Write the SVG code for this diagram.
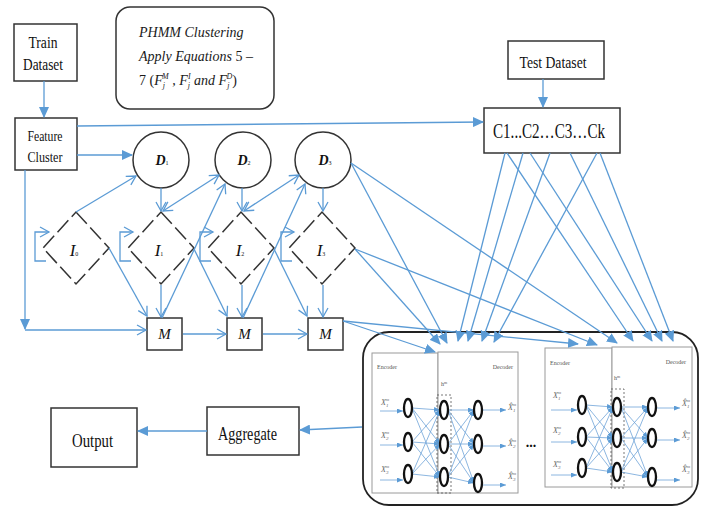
<svg xmlns="http://www.w3.org/2000/svg" width="704" height="508" viewBox="0 0 704 508">
<style>
.box{fill:#fff;stroke:#333;stroke-width:1.5}
.lbl{font-family:"Liberation Serif",serif;fill:#111}
.it{font-family:"Liberation Serif",serif;font-style:italic;fill:#1a1a1a}
.c{fill:none;stroke:#5B9BD5;stroke-width:1.3}
.nn{fill:none;stroke:#6FA3D8;stroke-width:0.8}
.neu{fill:#fff;stroke:#111;stroke-width:2.3}
.pan{fill:#fff;stroke:#9a9a9a;stroke-width:1}
.tiny{font-family:"Liberation Serif",serif;font-size:6px;fill:#555}
.xl{font-family:"Liberation Serif",serif;font-style:italic;font-size:8px;fill:#666}
.dia{fill:#fff;stroke:#333;stroke-width:1.5;stroke-dasharray:16 5}
</style>
<defs>
<marker id="tri" markerWidth="11" markerHeight="10" refX="10" refY="5" orient="auto" markerUnits="userSpaceOnUse"><path d="M0,0 L11,5 L0,10 z" fill="#5B9BD5"/></marker>
<marker id="vee" markerWidth="12" markerHeight="12" refX="10" refY="6" orient="auto-start-reverse" markerUnits="userSpaceOnUse"><path d="M1,1 L10,6 L1,11" fill="none" stroke="#5B9BD5" stroke-width="1.3"/></marker>
<marker id="sm" markerWidth="6" markerHeight="5" refX="6" refY="2.5" orient="auto" markerUnits="userSpaceOnUse"><path d="M0,0 L6,2.5 L0,5 z" fill="#5B9BD5"/></marker>
</defs>
<rect width="704" height="508" fill="#fff"/>

<g id="train-dataset">
<rect class="box" x="14" y="24" width="63" height="57"/>
<text class="lbl" font-size="17" text-anchor="middle" x="43" y="48" textLength="29" lengthAdjust="spacingAndGlyphs">Train</text>
<text class="lbl" font-size="17" text-anchor="middle" x="43" y="70" textLength="40" lengthAdjust="spacingAndGlyphs">Dataset</text>
</g>
<g id="feature-cluster">
<rect class="box" x="15" y="118" width="62" height="52"/>
<text class="lbl" font-size="14" text-anchor="middle" x="45" y="141" textLength="35" lengthAdjust="spacingAndGlyphs">Feature</text>
<text class="lbl" font-size="14" text-anchor="middle" x="45" y="162" textLength="35" lengthAdjust="spacingAndGlyphs">Cluster</text>
</g>
<g id="phmm-note">
<rect x="116" y="7" width="158" height="102" rx="14" fill="#fff" stroke="#333" stroke-width="1.5"/>
<text class="it" font-size="14" x="139" y="37">PHMM Clustering</text>
<text class="it" font-size="14" x="139" y="61">Apply Equations <tspan font-style="normal">5 –</tspan></text>
<text class="it" font-size="14" x="139" y="85"><tspan font-style="normal">7 (</tspan>F<tspan font-size="8" dy="3">j</tspan><tspan font-size="8" dx="-3" dy="-9">M</tspan><tspan dy="6"> , F</tspan><tspan font-size="8" dy="3">j</tspan><tspan font-size="8" dx="-2" dy="-9">I</tspan><tspan dy="6"> and F</tspan><tspan font-size="8" dy="3">j</tspan><tspan font-size="8" dx="-3" dy="-9">D</tspan><tspan font-style="normal" dy="6">)</tspan></text>
</g>
<g id="test-dataset">
<rect class="box" x="508" y="41" width="96" height="38"/>
<text class="lbl" font-size="17" text-anchor="middle" x="553" y="68" textLength="67" lengthAdjust="spacingAndGlyphs">Test Dataset</text>
</g>
<g id="clusters">
<rect class="box" x="484" y="108" width="136" height="45"/>
<text class="lbl" font-size="20" x="493" y="138" textLength="112" lengthAdjust="spacingAndGlyphs">C1...C2…C3…Ck</text>
</g>

<g id="D1"><circle class="box" cx="161" cy="160" r="28"/><text class="lbl" font-size="14" font-weight="bold" font-style="italic" text-anchor="middle" x="162" y="165">D<tspan font-size="6" font-weight="normal" font-style="normal">1</tspan></text></g>
<g id="D2"><circle class="box" cx="243" cy="160" r="28"/><text class="lbl" font-size="14" font-weight="bold" font-style="italic" text-anchor="middle" x="244" y="165">D<tspan font-size="6" font-weight="normal" font-style="normal">2</tspan></text></g>
<g id="D3"><circle class="box" cx="323" cy="160" r="28"/><text class="lbl" font-size="14" font-weight="bold" font-style="italic" text-anchor="middle" x="325" y="165">D<tspan font-size="6" font-weight="normal" font-style="normal">3</tspan></text></g>

<g id="I0"><polygon class="dia" points="76,212 109,248 76,284 43,248"/><text class="lbl" font-size="17" font-style="italic" text-anchor="middle" x="74" y="256">I<tspan font-size="6" font-style="normal">0</tspan></text></g>
<g id="I1"><polygon class="dia" points="161,212 194,248 161,284 128,248"/><text class="lbl" font-size="17" font-style="italic" text-anchor="middle" x="159" y="256">I<tspan font-size="6" font-style="normal">1</tspan></text></g>
<g id="I2"><polygon class="dia" points="241,212 274,248 241,284 208,248"/><text class="lbl" font-size="17" font-style="italic" text-anchor="middle" x="240" y="256">I<tspan font-size="6" font-style="normal">2</tspan></text></g>
<g id="I3"><polygon class="dia" points="322,212 355,248 322,284 289,248"/><text class="lbl" font-size="17" font-style="italic" text-anchor="middle" x="321" y="256">I<tspan font-size="6" font-style="normal">3</tspan></text></g>

<g id="M1"><rect class="box" x="147" y="318" width="35" height="32"/><text class="lbl" font-size="15" font-style="italic" text-anchor="middle" x="164.5" y="339">M</text></g>
<g id="M2"><rect class="box" x="227" y="318" width="35" height="32"/><text class="lbl" font-size="15" font-style="italic" text-anchor="middle" x="244.5" y="339">M</text></g>
<g id="M3"><rect class="box" x="308" y="318" width="35" height="32"/><text class="lbl" font-size="15" font-style="italic" text-anchor="middle" x="325.5" y="339">M</text></g>

<g id="autoencoder-ensemble">
<rect x="363" y="332" width="335" height="173" rx="26" fill="#fff" stroke="#222" stroke-width="1.8"/>
<text class="lbl" font-size="14" font-weight="bold" text-anchor="middle" x="531" y="447">...</text>
</g>

<g id="autoencoder-1">
<rect class="pan" x="372" y="353" width="66" height="140"/>
<rect class="pan" x="438" y="352" width="80" height="141"/>
<rect x="437" y="395" width="14" height="98" fill="none" stroke="#555" stroke-width="0.8" stroke-dasharray="2 2"/>
<text class="tiny" x="377" y="369">Encoder</text>
<text class="tiny" x="513" y="369" text-anchor="end">Decoder</text>
<text class="tiny" x="441" y="386">h<tspan font-size="4" dy="-2">m</tspan></text>
<text class="xl" x="381" y="405">X<tspan font-size="5" dy="2">1</tspan><tspan font-size="5" dx="-3" dy="-6">m</tspan></text>
<text class="xl" x="381" y="438">X<tspan font-size="5" dy="2">2</tspan><tspan font-size="5" dx="-3" dy="-6">m</tspan></text>
<text class="xl" x="381" y="472">X<tspan font-size="5" dy="2">3</tspan><tspan font-size="5" dx="-3" dy="-6">m</tspan></text>
<text class="xl" x="508" y="410">X̂<tspan font-size="5" dy="2">1</tspan><tspan font-size="5" dx="-3" dy="-6">m</tspan></text>
<text class="xl" x="508" y="446">X̂<tspan font-size="5" dy="2">2</tspan><tspan font-size="5" dx="-3" dy="-6">m</tspan></text>
<text class="xl" x="508" y="479">X̂<tspan font-size="5" dy="2">3</tspan><tspan font-size="5" dx="-3" dy="-6">m</tspan></text>
<g marker-end="url(#sm)">
<line class="nn" x1="380" y1="411" x2="403" y2="411"/><line class="nn" x1="380" y1="445" x2="403" y2="445"/><line class="nn" x1="380" y1="480" x2="403" y2="480"/>
<line class="nn" x1="412" y1="408" x2="440" y2="410"/><line class="nn" x1="412" y1="408" x2="440" y2="444"/><line class="nn" x1="412" y1="408" x2="440" y2="477"/>
<line class="nn" x1="412" y1="442" x2="440" y2="410"/><line class="nn" x1="412" y1="442" x2="440" y2="444"/><line class="nn" x1="412" y1="442" x2="440" y2="477"/>
<line class="nn" x1="412" y1="474" x2="440" y2="410"/><line class="nn" x1="412" y1="474" x2="440" y2="444"/><line class="nn" x1="412" y1="474" x2="440" y2="477"/>
<line class="nn" x1="448" y1="410" x2="474" y2="410"/><line class="nn" x1="448" y1="410" x2="474" y2="444"/><line class="nn" x1="448" y1="410" x2="474" y2="483"/>
<line class="nn" x1="448" y1="444" x2="474" y2="410"/><line class="nn" x1="448" y1="444" x2="474" y2="444"/><line class="nn" x1="448" y1="444" x2="474" y2="483"/>
<line class="nn" x1="448" y1="477" x2="474" y2="410"/><line class="nn" x1="448" y1="477" x2="474" y2="444"/><line class="nn" x1="448" y1="477" x2="474" y2="483"/>
<line class="nn" x1="483" y1="410" x2="506" y2="410"/><line class="nn" x1="483" y1="446" x2="506" y2="446"/><line class="nn" x1="483" y1="485" x2="506" y2="485"/>
</g>
<ellipse class="neu" cx="408" cy="408" rx="4" ry="9"/><ellipse class="neu" cx="408" cy="442" rx="4" ry="9"/><ellipse class="neu" cx="408" cy="474" rx="4" ry="9"/>
<ellipse class="neu" cx="444" cy="410" rx="4" ry="9"/><ellipse class="neu" cx="444" cy="444" rx="4" ry="9"/><ellipse class="neu" cx="444" cy="477" rx="4" ry="9"/>
<ellipse class="neu" cx="478" cy="410" rx="4" ry="9"/><ellipse class="neu" cx="478" cy="444" rx="4" ry="9"/><ellipse class="neu" cx="478" cy="483" rx="4" ry="9"/>
</g>

<g id="autoencoder-2">
<rect class="pan" x="545" y="348" width="67" height="139"/>
<rect class="pan" x="612" y="347" width="80" height="140"/>
<rect x="611" y="389" width="13" height="99" fill="none" stroke="#555" stroke-width="0.8" stroke-dasharray="2 2"/>
<text class="tiny" x="550" y="365">Encoder</text>
<text class="tiny" x="686" y="364" text-anchor="end">Decoder</text>
<text class="tiny" x="614" y="380">h<tspan font-size="4" dy="-2">m</tspan></text>
<text class="xl" x="553" y="398">X<tspan font-size="5" dy="2">1</tspan><tspan font-size="5" dx="-3" dy="-6">m</tspan></text>
<text class="xl" x="553" y="433">X<tspan font-size="5" dy="2">2</tspan><tspan font-size="5" dx="-3" dy="-6">m</tspan></text>
<text class="xl" x="553" y="467">X<tspan font-size="5" dy="2">3</tspan><tspan font-size="5" dx="-3" dy="-6">m</tspan></text>
<text class="xl" x="682" y="406">X̂<tspan font-size="5" dy="2">1</tspan><tspan font-size="5" dx="-3" dy="-6">m</tspan></text>
<text class="xl" x="682" y="438">X̂<tspan font-size="5" dy="2">2</tspan><tspan font-size="5" dx="-3" dy="-6">m</tspan></text>
<text class="xl" x="682" y="472">X̂<tspan font-size="5" dy="2">3</tspan><tspan font-size="5" dx="-3" dy="-6">m</tspan></text>
<g marker-end="url(#sm)">
<line class="nn" x1="551" y1="410" x2="577" y2="410"/><line class="nn" x1="551" y1="442" x2="577" y2="442"/><line class="nn" x1="551" y1="475" x2="577" y2="475"/>
<line class="nn" x1="586" y1="405" x2="613" y2="407"/><line class="nn" x1="586" y1="405" x2="613" y2="438"/><line class="nn" x1="586" y1="405" x2="613" y2="472"/>
<line class="nn" x1="586" y1="437" x2="613" y2="407"/><line class="nn" x1="586" y1="437" x2="613" y2="438"/><line class="nn" x1="586" y1="437" x2="613" y2="472"/>
<line class="nn" x1="586" y1="468" x2="613" y2="407"/><line class="nn" x1="586" y1="468" x2="613" y2="438"/><line class="nn" x1="586" y1="468" x2="613" y2="472"/>
<line class="nn" x1="621" y1="407" x2="648" y2="407"/><line class="nn" x1="621" y1="407" x2="648" y2="438"/><line class="nn" x1="621" y1="407" x2="648" y2="477"/>
<line class="nn" x1="621" y1="438" x2="648" y2="407"/><line class="nn" x1="621" y1="438" x2="648" y2="438"/><line class="nn" x1="621" y1="438" x2="648" y2="477"/>
<line class="nn" x1="621" y1="472" x2="648" y2="407"/><line class="nn" x1="621" y1="472" x2="648" y2="438"/><line class="nn" x1="621" y1="472" x2="648" y2="477"/>
<line class="nn" x1="657" y1="408" x2="680" y2="408"/><line class="nn" x1="657" y1="440" x2="680" y2="440"/><line class="nn" x1="657" y1="480" x2="680" y2="480"/>
</g>
<ellipse class="neu" cx="582" cy="405" rx="4" ry="9"/><ellipse class="neu" cx="582" cy="437" rx="4" ry="9"/><ellipse class="neu" cx="582" cy="468" rx="4" ry="9"/>
<ellipse class="neu" cx="617" cy="407" rx="4" ry="9"/><ellipse class="neu" cx="617" cy="438" rx="4" ry="9"/><ellipse class="neu" cx="617" cy="472" rx="4" ry="9"/>
<ellipse class="neu" cx="652" cy="407" rx="4" ry="9"/><ellipse class="neu" cx="652" cy="438" rx="4" ry="9"/><ellipse class="neu" cx="652" cy="477" rx="4" ry="9"/>
</g>

<g id="aggregate"><rect class="box" x="207" y="407" width="92" height="48"/><text class="lbl" font-size="19" text-anchor="middle" x="247.5" y="440" textLength="59" lengthAdjust="spacingAndGlyphs">Aggregate</text></g>
<g id="output"><rect class="box" x="51" y="408" width="86" height="59"/><text class="lbl" font-size="19" text-anchor="middle" x="92.5" y="447" textLength="41" lengthAdjust="spacingAndGlyphs">Output</text></g>

<g id="connectors">
<g marker-end="url(#tri)">
<path class="c" d="M44,81 L44,117"/>
<path class="c" d="M543,79 L543,107"/>
<path class="c" d="M77,126 L483,122"/>
<path class="c" d="M77,155 L132,155"/>
<path class="c" d="M25,170 L25,329"/>
<path class="c" d="M351,163 L447,343"/>
<path class="c" d="M351,163 L617,343"/>
<path class="c" d="M355,249 L440,344"/>
<path class="c" d="M355,249 L597,345"/>
<path class="c" d="M343,321 L435,352"/>
<path class="c" d="M343,321 L578,344"/>
<path class="c" d="M505,153 L458,341"/>
<path class="c" d="M507,153 L633,341"/>
<path class="c" d="M523,153 L468,341"/>
<path class="c" d="M530,153 L652,341"/>
<path class="c" d="M550,153 L482,341"/>
<path class="c" d="M570,153 L662,341"/>
<path class="c" d="M597,153 L494,342"/>
<path class="c" d="M600,153 L673,341"/>
<path class="c" d="M362,427 L300,430"/>
<path class="c" d="M207,431 L138,431"/>
</g>
<g marker-end="url(#vee)">
<path class="c" d="M25,330 L146,330"/>
<path class="c" d="M76,212 L136,176"/>
<path class="c" d="M161,188 L161,211"/>
<path class="c" d="M242,188 L242,211"/>
<path class="c" d="M323,188 L323,211"/>
<path class="c" d="M163,211 L219,175" marker-start="url(#vee)"/>
<path class="c" d="M244,211 L299,175" marker-start="url(#vee)"/>
<path class="c" d="M162,318 L225,184"/>
<path class="c" d="M243,318 L305,184"/>
<path class="c" d="M161,285 L161,317"/>
<path class="c" d="M242,285 L242,317"/>
<path class="c" d="M323,285 L323,317"/>
<path class="c" d="M109,248 L147,316"/>
<path class="c" d="M194,249 L227,316"/>
<path class="c" d="M274,249 L307,316"/>
<path class="c" d="M183,334 L226,334"/>
<path class="c" d="M263,334 L307,334"/>
<path class="c" d="M46,261 H35 V232 H49"/>
<path class="c" d="M131,261 H120 V232 H133"/>
<path class="c" d="M211,261 H200 V232 H213"/>
<path class="c" d="M292,261 H281 V232 H294"/>
</g>
</g>
</svg>
